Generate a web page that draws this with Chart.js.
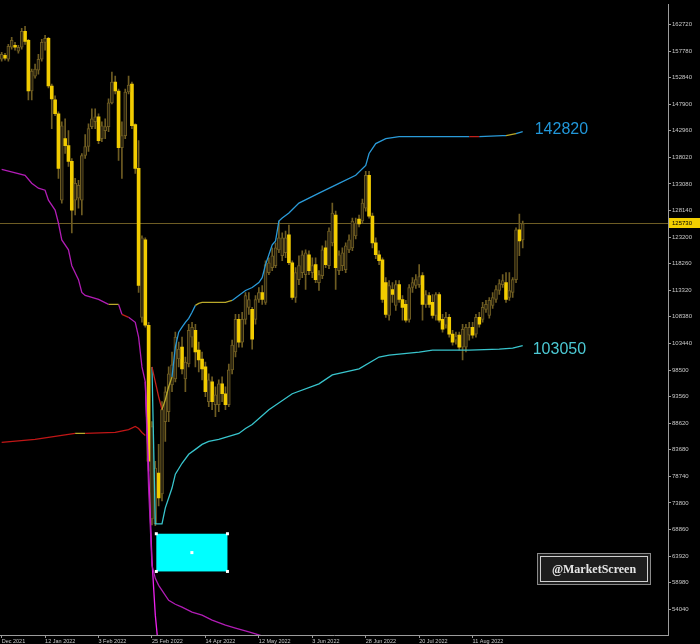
<!DOCTYPE html>
<html>
<head>
<meta charset="utf-8">
<script src="https://cdn.jsdelivr.net/npm/chart.js@4.4.1/dist/chart.umd.min.js"></script>
<style>
  html, body { margin: 0; padding: 0; background: #000; }
  canvas { display: block; }
</style>
</head>
<body>
<canvas id="chart" width="700" height="644"></canvas>
<script>
// daily bars, one slot per bar, empty slots on the right
var nSlots = 200;

var dateTicks = [0, 13, 29, 45, 61, 77, 93, 109, 125, 141];
var dateLabels = ['Dec 2021', '12 Jan 2022', '3 Feb 2022', '25 Feb 2022', '14 Apr 2022',
                  '12 May 2022', '3 Jun 2022', '28 Jun 2022', '20 Jul 2022', '11 Aug 2022'];

var priceTicks = [54040, 58980, 63920, 68860, 73800, 78740, 83680, 88620, 93560, 98500, 103440,
                  108380, 113320, 118260, 123200, 128140, 133080, 138020, 142960, 147900,
                  152840, 157780, 162720];

var opens = [156260,157000,156260,158480,158850,157740,158480,161430,159770,150360,
  153130,154230,156260,159400,160140,151280,148700,146120,130060,141500,
  140210,137260,130060,130430,130060,138370,140030,143720,144640,145560,
  141500,142980,143720,148140,152020,150360,139840,142060,150170,151650,
  144090,135970,108290,122680,106820,70840,69920,79330,75450,88920,
  90770,95750,96850,100540,102760,96850,99620,104600,105890,102200,
  100540,99070,92610,96300,92060,92060,95930,94090,92060,98510,
  101840,107920,103680,107920,110140,109770,107920,111610,112910,111060,
  116600,117520,117890,120840,119730,120290,123610,118440,111980,115310,
  116600,116230,119920,116600,118070,114750,116040,121210,117890,122130,
  127300,116970,117890,117150,120840,121210,123420,126560,126190,128590,
  134680,127110,122130,119920,118990,114750,108660,113460,110510,114380,
  111610,110690,107920,113830,114200,114380,116040,110690,112350,111060,
  108660,112540,107920,106820,108290,105160,104050,104970,102760,102760,
  104970,106450,105160,108290,107920,109770,108660,110510,111610,113270,
  114380,114750,111980,112910,115300,124530,122680];
var highs = [157550,157370,159030,160320,159400,158850,161980,162350,159950,154420,
  155340,157190,159950,160690,160320,151650,149440,146490,144640,145190,
  142980,137810,134120,133750,138740,142240,144270,147040,147040,146120,
  144640,145190,148880,153860,153130,150730,144640,150730,153130,152020,
  144270,141130,123420,123050,107370,88920,81540,84680,92610,95380,
  99070,101840,105530,103680,104600,100910,107000,107370,107000,103680,
  101840,99990,97780,97220,95380,96670,97220,95380,99620,104050,
  108850,108850,109220,112910,112910,110140,112350,113830,114200,118810,
  119360,121210,122130,126190,123980,124340,125450,118810,117520,119730,
  120660,120840,120660,119360,119360,116970,121580,122500,124900,129510,
  128040,120660,121210,122130,123610,126740,126740,127300,130250,135410,
  135410,127670,123050,120660,119360,115670,115120,114750,115120,115120,
  112350,111430,114380,115670,116230,118070,116600,113270,112910,112540,
  112910,112910,108850,109220,108850,105890,105530,105530,107000,107000,
  107370,107370,108850,109220,111060,111430,111980,112910,114200,115300,
  116230,116600,116600,115670,124900,127480,126190];
var lows = [155890,156080,155890,158110,157920,157370,158110,159030,148700,148700,
  152760,153500,155890,157920,150910,143350,145750,134120,129510,138740,
  136340,123980,127300,128590,127300,137810,139110,143350,143350,140580,
  140950,141500,142790,147960,149810,137440,134120,141500,149810,143350,
  135050,112910,107370,106450,79700,69730,69550,73240,74160,85230,
  88920,94460,96300,99070,97780,94460,99070,102760,99070,98150,
  96670,93530,91680,91130,89840,90770,92610,91130,91680,97780,
  100910,102760,102760,107000,108850,102390,107000,111060,110690,110690,
  116230,116970,117520,120290,118810,119360,118070,111610,111060,114380,
  115670,113460,116230,115670,114750,113270,115490,117520,117330,121580,
  113460,116230,116970,116600,120290,120660,122870,125080,125820,128040,
  126740,121210,119180,118070,111060,108290,107740,111060,109580,111060,
  107740,107370,107370,112910,113640,113830,107740,110140,110140,108110,
  107740,107370,105530,106260,104600,103130,103310,102200,100360,101840,
  104050,104420,104600,106450,107370,109220,108110,109950,111060,112540,
  113830,111060,111430,111980,114750,119730,121210];
var closes = [157190,156450,158660,159770,158480,158480,161430,159580,150360,154050,
  154420,156260,159400,160140,151280,148880,146120,135970,143900,140210,
  137260,128220,133200,132830,138370,140030,143350,145190,145560,141130,
  143900,143720,148140,152020,150360,139840,142060,150170,151470,143900,
  135970,114200,123050,106820,81540,88000,80250,74710,91130,94460,
  97780,99440,104600,102390,98700,99990,105890,106450,101840,100360,
  98700,94460,96670,92610,93900,95930,94090,92060,98510,103130,
  107920,103680,107920,112350,111610,104230,111610,112910,111610,118070,
  118440,119730,121210,123050,123050,123050,118440,111980,116600,117890,
  119920,120290,116970,117890,115310,116230,120840,118070,124340,127670,
  117520,119920,120290,121580,122680,126190,125820,125640,129510,134680,
  127110,122130,119920,118810,111610,108850,114200,112540,114380,111610,
  110140,107740,113830,114750,115300,115860,110690,112540,110690,108660,
  112540,107740,106080,108290,105160,103680,104790,102760,106080,106450,
  106450,104970,108290,107000,110140,110690,111430,111980,113460,114570,
  115120,111610,113270,115300,124530,122500,125730];

// indicator lines: bar index -> value
var upperIdx = [45,46,47,48,49,50,51,52,53,54,55,56,57,58,59,60,67,69,71,73,75,77,78,79,81,82,83,84,86,89,95,101,106,109,110,112,115,119,140,143,150,151,154,156];
var upperVal = [99070,96300,93530,91130,92980,95380,97220,102760,105530,106450,107370,108110,109220,110510,110880,111060,111060,111430,112350,113270,113830,114750,115670,118070,121760,122500,126190,126740,127670,129510,131360,133200,134680,136520,138740,140580,141500,141870,141870,141870,142060,142060,142430,142820];

var lowerIdx = [45,46,48,49,51,52,54,56,58,60,62,65,68,71,73,75,80,87,95,99,107,113,116,125,129,140,149,153,156];
var lowerVal = [99070,69920,69920,72870,76560,79140,81170,82830,83750,84680,85230,85600,86150,86710,87630,88370,91130,94090,95930,97590,98700,100910,101280,101840,102200,102200,102390,102570,103050];

var purpleIdx = [0,7,9,11,13,14,16,17,18,20,21,23,24,25,29,32,35,36,38,40,41,42,43,44,45,46,47,48,50,52,54,57,60,63,67,70,74,76,80];
var purpleVal = [135780,134680,133200,132280,131910,130060,128220,125820,122680,120840,117890,115300,112910,112350,111610,110690,110690,108850,108290,107370,104600,99070,96300,76560,62170,59770,58480,57560,55710,54970,54420,53500,52940,52020,51100,50540,49810,49440,48700];

var magentaIdx = [43,44,45,46,47];
var magentaVal = [96300,79700,63090,52940,46480];

var redIdx = [0,10,18,22,25,34,38,40,41,42,43];
var redVal = [85050,85600,86340,86710,86710,86890,87440,88000,87630,86890,86340];

// the cyan box drawn on the chart (bar index / price corners)
var boxFrom = [46.3, 68070];
var boxTo = [67.6, 61060];

var lastPrice = closes[closes.length - 1];

var labels = [];
for (var i = 0; i < nSlots; i++) {
    var k = dateTicks.indexOf(i);
    labels.push(k >= 0 ? dateLabels[k] : '');
}

function series(idx, vals) {
    var a = new Array(nSlots).fill(null);
    idx.forEach(function (k, j) { a[k] = vals[j]; });
    return a;
}

// colour runs: [from bar index, colour]
function runColor(runs) {
    return function (ctx) {
        var c = runs[0][1];
        runs.forEach(function (r) { if (ctx.p0DataIndex >= r[0]) c = r[1]; });
        return c;
    };
}

var wicks = lows.map(function (l, i) { return [l, highs[i]]; });
var upBodies = opens.map(function (o, i) { return closes[i] >= o ? [o, closes[i]] : null; });
var downBodies = opens.map(function (o, i) { return closes[i] < o ? [closes[i], o] : null; });

var axisGray = '#9c9c9c';
var smallFont = { family: 'Liberation Sans', size: 6 };

var overlay = {
    id: 'overlay',
    beforeDatasetsDraw: function (chart) {
        var ctx = chart.ctx, a = chart.chartArea, y = chart.scales.y;
        var py = Math.round(y.getPixelForValue(lastPrice)) + 0.5;
        ctx.save();
        ctx.strokeStyle = '#6e5d24';
        ctx.lineWidth = 1;
        ctx.beginPath();
        ctx.moveTo(a.left, py);
        ctx.lineTo(a.right, py);
        ctx.stroke();
        ctx.restore();
    },
    afterDraw: function (chart) {
        var ctx = chart.ctx, a = chart.chartArea, x = chart.scales.x, y = chart.scales.y;
        ctx.save();

        // price tag on the axis
        var py = Math.round(y.getPixelForValue(lastPrice));
        ctx.fillStyle = '#f2cf00';
        ctx.fillRect(a.right + 1, py - 5, 31, 10);
        ctx.fillStyle = '#000';
        ctx.font = '6px "Liberation Sans"';
        ctx.textBaseline = 'middle';
        ctx.textAlign = 'left';
        ctx.fillText(String(lastPrice), a.right + 4, py);

        // end values of the two bands
        var ex = x.getPixelForValue(closes.length - 1);
        ctx.font = '16px "Liberation Sans"';
        ctx.fillStyle = '#2196d8';
        ctx.fillText(String(upperVal[upperVal.length - 1]), ex + 12, y.getPixelForValue(upperVal[upperVal.length - 1]) - 2);
        ctx.fillStyle = '#4cc9d4';
        ctx.fillText(String(lowerVal[lowerVal.length - 1]), ex + 10, y.getPixelForValue(lowerVal[lowerVal.length - 1]) + 4);

        // cyan rectangle object
        var x0 = x.getPixelForValue(boxFrom[0]), y0 = y.getPixelForValue(boxFrom[1]);
        var x1 = x.getPixelForValue(boxTo[0]), y1 = y.getPixelForValue(boxTo[1]);
        ctx.fillStyle = '#00ffff';
        ctx.fillRect(x0, y0, x1 - x0, y1 - y0);
        ctx.fillStyle = '#ffffff';
        [[x0, y0], [x1, y0], [x0, y1], [x1, y1], [(x0 + x1) / 2, (y0 + y1) / 2]].forEach(function (p) {
            ctx.fillRect(p[0] - 1.5, p[1] - 1.5, 3, 3);
        });

        // watermark
        ctx.fillStyle = '#1e1e1e';
        ctx.fillRect(537, 553, 114, 32);
        ctx.strokeStyle = '#8a8a8a';
        ctx.lineWidth = 1;
        ctx.strokeRect(537.5, 553.5, 113, 31);
        ctx.strokeStyle = '#d0d0d0';
        ctx.strokeRect(540.5, 556.5, 107, 25);
        ctx.font = 'bold 12px "Liberation Serif"';
        ctx.fillStyle = '#e6e6e6';
        ctx.textAlign = 'center';
        ctx.fillText('@MarketScreen', 594, 570);
        ctx.restore();
    }
};

var chart = new Chart(document.getElementById('chart'), {
    type: 'bar',
    data: {
        labels: labels,
        datasets: [{
                type: 'line',
                data: series(upperIdx, upperVal),
                borderWidth: 1.3,
                pointRadius: 0,
                spanGaps: true,
                order: 0,
                segment: {
                    borderColor: runColor([[45, '#c0221c'], [48, '#b9a82a'], [51, '#2a9ad8'], [58, '#b9a82a'],
                                           [69, '#2a9ad8'], [140, '#c0221c'], [143, '#2a9ad8'],
                                           [151, '#b9a82a'], [154, '#2a9ad8']])
                },
                borderColor: '#2a9ad8'
            },
            {
                type: 'line',
                data: series(lowerIdx, lowerVal),
                borderColor: '#38c4cc',
                borderWidth: 1.3,
                pointRadius: 0,
                spanGaps: true,
                order: 0
            },
            {
                type: 'line',
                data: series(purpleIdx, purpleVal),
                borderColor: '#b01cb4',
                borderWidth: 1.3,
                pointRadius: 0,
                spanGaps: true,
                order: 0,
                segment: {
                    borderColor: runColor([[0, '#b01cb4'], [32, '#b9a82a'], [35, '#b01cb4'], [36, '#c0221c'], [38, '#b01cb4']])
                }
            },
            {
                type: 'line',
                data: series(magentaIdx, magentaVal),
                borderColor: '#ee22ee',
                borderWidth: 1.3,
                pointRadius: 0,
                spanGaps: true,
                order: 0
            },
            {
                type: 'line',
                data: series(redIdx, redVal),
                borderColor: '#c01616',
                borderWidth: 1.3,
                pointRadius: 0,
                spanGaps: true,
                order: 0,
                segment: {
                    borderColor: runColor([[0, '#c01616'], [22, '#b9a82a'], [25, '#c01616']])
                }
            },
            {
                data: upBodies,
                backgroundColor: '#272110',
                borderColor: '#6e5c22',
                borderWidth: 1,
                borderSkipped: false,
                barThickness: 3,
                minBarLength: 1,
                grouped: false,
                order: 2
            },
            {
                data: downBodies,
                backgroundColor: '#f2cc00',
                barThickness: 3,
                minBarLength: 1,
                grouped: false,
                order: 2
            },
            {
                data: wicks,
                backgroundColor: '#6e5c22',
                barThickness: 1,
                grouped: false,
                order: 3
            }
        ]
    },
    options: {
        responsive: false,
        animation: false,
        layout: { padding: 0 },
        plugins: {
            legend: { display: false },
            tooltip: { enabled: false }
        },
        scales: {
            x: {
                offset: true,
                grid: { display: true, drawOnChartArea: false, offset: false, tickLength: 3, color: axisGray },
                border: { display: true, color: axisGray },
                ticks: { autoSkip: false, maxRotation: 0, align: 'start', padding: 0, color: '#c8c8c8',
                         font: { family: 'Liberation Sans', size: 5.5 } },
                afterBuildTicks: function (s) {
                    s.ticks = dateTicks.map(function (v) { return { value: v }; });
                },
                afterFit: function (s) { s.height = 9; }
            },
            y: {
                position: 'right',
                min: 49250,
                max: 166410,
                grid: { display: true, drawOnChartArea: false, tickLength: 3, color: axisGray },
                border: { display: true, color: axisGray },
                ticks: { padding: 1, color: '#c8c8c8', font: smallFont,
                         callback: function (v) { return String(v); } },
                afterBuildTicks: function (s) {
                    s.ticks = priceTicks.map(function (v) { return { value: v }; });
                },
                afterFit: function (s) { s.width = 32; }
            }
        }
    },
    plugins: [overlay]
});
</script>
</body>
</html>
